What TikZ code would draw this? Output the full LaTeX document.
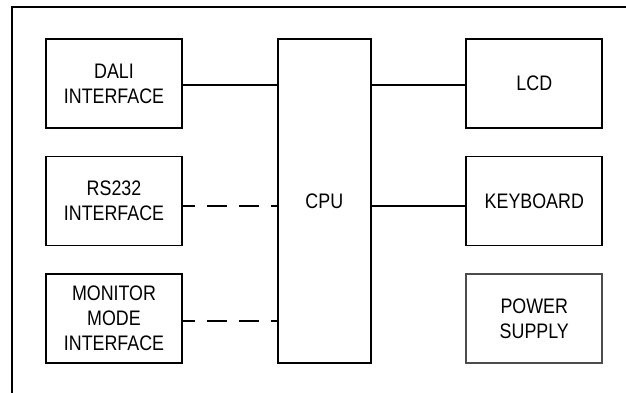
\documentclass[tikz,border=0pt]{standalone}
\usepackage{fontspec}
\setmainfont{Liberation Sans}[FakeStretch=0.85]
\usetikzlibrary{positioning}

\begin{document}
\begin{tikzpicture}[x=0.5pt, y=-0.5pt,
    font=\fontsize{10.5}{12.5}\selectfont,
    bloque/.style={draw, line width=0.9pt, minimum width=68pt, minimum height=44.5pt,
        align=center, inner sep=0pt},
    enlace/.style={line width=0.9pt},
    serie/.style={line width=0.9pt, dash pattern=on 10pt off 6pt, dash phase=4pt}]
    \useasboundingbox (0,0) rectangle (626,392);

    % Marco exterior (cortado por el borde)
    \draw[line width=1pt] (12,400) -- (12,7) -- (640,7);

    % Interfaces a la izquierda
    \node[bloque] (dali) at (114,83.5) {DALI\\INTERFACE};
    \node[bloque] (rs232) at (114,201) {RS232\\INTERFACE};
    \node[bloque] (monitor) at (114,318.5) {MONITOR\\MODE\\INTERFACE};

    % Procesador
    \node[bloque, minimum width=46.7pt, minimum height=162pt] (cpu) at (324.3,201) {CPU};

    % Perifericos a la derecha
    \node[bloque] (lcd) at (534.3,83.5) {LCD};
    \node[bloque] (teclado) at (534.3,201) {\raisebox{-2pt}{KEYBOARD}};
    \node[bloque, draw=black!70] (fuente) at (534.3,318.5) {POWER\\SUPPLY};

    % Puntos de salida de las conexiones
    \coordinate (daliout) at ([yshift=-0.7pt]dali.east);
    \coordinate (rsout) at ([yshift=-2.3pt]rs232.east);
    \coordinate (monout) at ([yshift=-1.2pt]monitor.east);
    \coordinate (lcdin) at ([yshift=-0.7pt]lcd.west);
    \coordinate (tecin) at ([yshift=-2.3pt]teclado.west);

    % Conexiones
    \draw[enlace] (daliout) -- (cpu.west |- daliout);
    \draw[serie] (rsout) -- (cpu.west |- rsout);
    \draw[serie] (monout) -- (cpu.west |- monout);
    \draw[enlace] (lcdin) -- (cpu.east |- lcdin);
    \draw[enlace] (tecin) -- (cpu.east |- tecin);
\end{tikzpicture}
\end{document}
